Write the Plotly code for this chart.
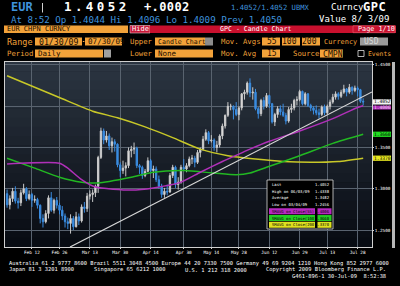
import plotly.graph_objects as go
import pandas as pd

W, H = 400, 286
MONO = "DejaVu Sans Mono"

# ---------------- data ----------------
dates = pd.bdate_range("2009-01-30", "2009-07-30")  # 130 trading days

opens = [1.2940, 1.2805, 1.2880, 1.2970, 1.2850, 1.2830, 1.2950, 1.3000, 1.2880, 1.2930,
         1.2860, 1.2870, 1.2800, 1.2640, 1.2600, 1.2700, 1.2890, 1.2740, 1.2860, 1.2800,
         1.2740, 1.2670, 1.2600, 1.2580, 1.2640, 1.2540, 1.2660, 1.2610, 1.2780, 1.2760,
         1.2910, 1.2930, 1.2950, 1.3030, 1.3380, 1.3700, 1.3590, 1.3640, 1.3520, 1.3570,
         1.3540, 1.3290, 1.3220, 1.3250, 1.3280, 1.3460, 1.3480, 1.3490, 1.3280, 1.3260,
         1.3160, 1.3210, 1.3340, 1.3220, 1.3240, 1.3110, 1.3030, 1.2930, 1.2970, 1.2960,
         1.3160, 1.3260, 1.3050, 1.3080, 1.3260, 1.3240, 1.3280, 1.3360, 1.3370, 1.3320,
         1.3440, 1.3480, 1.3600, 1.3680, 1.3580, 1.3590, 1.3500, 1.3530, 1.3640, 1.3760,
         1.3890, 1.4000, 1.4000, 1.3960, 1.3900, 1.3980, 1.4150, 1.4170, 1.4280, 1.4160,
         1.4170, 1.3970, 1.3910, 1.4070, 1.4000, 1.4130, 1.4030, 1.3810, 1.3900, 1.3970,
         1.3930, 1.3890, 1.3820, 1.3960, 1.3980, 1.4070, 1.4080, 1.4180, 1.4030, 1.4150,
         1.4010, 1.3980, 1.3950, 1.3920, 1.3900, 1.3990, 1.3920, 1.4000, 1.4050, 1.4110,
         1.4150, 1.4120, 1.4170, 1.4210, 1.4170, 1.4230, 1.4190, 1.4220, 1.4200, 1.4060]
highs = [1.2990, 1.2920, 1.3010, 1.3030, 1.2890, 1.2990, 1.3060, 1.3020, 1.2980, 1.2950,
         1.2920, 1.2890, 1.2810, 1.2690, 1.2740, 1.2920, 1.2960, 1.2880, 1.2900, 1.2830,
         1.2790, 1.2700, 1.2650, 1.2690, 1.2670, 1.2720, 1.2700, 1.2810, 1.2840, 1.2950,
         1.2980, 1.2990, 1.3050, 1.3400, 1.3740, 1.3730, 1.3700, 1.3670, 1.3620, 1.3600,
         1.3550, 1.3320, 1.3340, 1.3320, 1.3500, 1.3520, 1.3560, 1.3510, 1.3300, 1.3280,
         1.3240, 1.3380, 1.3360, 1.3280, 1.3270, 1.3160, 1.3060, 1.3010, 1.3050, 1.3190,
         1.3290, 1.3280, 1.3140, 1.3290, 1.3360, 1.3310, 1.3390, 1.3410, 1.3400, 1.3470,
         1.3500, 1.3640, 1.3720, 1.3700, 1.3650, 1.3610, 1.3580, 1.3660, 1.3790, 1.3900,
         1.4050, 1.4030, 1.4010, 1.4050, 1.4000, 1.4160, 1.4200, 1.4300, 1.4338, 1.4230,
         1.4210, 1.3990, 1.4090, 1.4110, 1.4160, 1.4140, 1.4040, 1.3920, 1.4000, 1.4010,
         1.4030, 1.3920, 1.3990, 1.4030, 1.4090, 1.4120, 1.4200, 1.4190, 1.4170, 1.4160,
         1.4030, 1.4000, 1.4010, 1.3970, 1.4010, 1.4020, 1.4020, 1.4080, 1.4150, 1.4180,
         1.4170, 1.4200, 1.4260, 1.4220, 1.4270, 1.4240, 1.4250, 1.4240, 1.4210, 1.4096]
lows = [1.2770, 1.2750, 1.2840, 1.2820, 1.2760, 1.2790, 1.2930, 1.2850, 1.2860, 1.2780,
        1.2830, 1.2760, 1.2580, 1.2530, 1.2580, 1.2640, 1.2720, 1.2700, 1.2760, 1.2690,
        1.2620, 1.2530, 1.2510, 1.2456, 1.2500, 1.2530, 1.2560, 1.2590, 1.2710, 1.2720,
        1.2870, 1.2840, 1.2900, 1.2950, 1.3360, 1.3540, 1.3560, 1.3470, 1.3440, 1.3450,
        1.3260, 1.3140, 1.3180, 1.3150, 1.3250, 1.3380, 1.3420, 1.3250, 1.3180, 1.3120,
        1.3140, 1.3200, 1.3180, 1.3130, 1.3080, 1.3000, 1.2890, 1.2890, 1.2920, 1.2950,
        1.3130, 1.3010, 1.2990, 1.3060, 1.3220, 1.3200, 1.3260, 1.3300, 1.3260, 1.3300,
        1.3380, 1.3460, 1.3580, 1.3540, 1.3560, 1.3460, 1.3440, 1.3500, 1.3600, 1.3730,
        1.3870, 1.3950, 1.3840, 1.3880, 1.3830, 1.3950, 1.4080, 1.4140, 1.4110, 1.4080,
        1.3950, 1.3850, 1.3880, 1.3960, 1.3980, 1.3980, 1.3790, 1.3760, 1.3860, 1.3890,
        1.3870, 1.3780, 1.3800, 1.3920, 1.3950, 1.4010, 1.4060, 1.4010, 1.4010, 1.3990,
        1.3940, 1.3900, 1.3890, 1.3850, 1.3880, 1.3890, 1.3900, 1.3960, 1.4030, 1.4080,
        1.4080, 1.4100, 1.4150, 1.4120, 1.4150, 1.4140, 1.4170, 1.4120, 1.4040, 1.4009]
closes = [1.2805, 1.2880, 1.2970, 1.2850, 1.2830, 1.2950, 1.3000, 1.2880, 1.2930, 1.2860,
          1.2870, 1.2800, 1.2640, 1.2600, 1.2700, 1.2890, 1.2740, 1.2860, 1.2800, 1.2740,
          1.2670, 1.2600, 1.2580, 1.2640, 1.2540, 1.2660, 1.2610, 1.2780, 1.2760, 1.2910,
          1.2930, 1.2950, 1.3030, 1.3380, 1.3700, 1.3590, 1.3640, 1.3520, 1.3570, 1.3540,
          1.3290, 1.3220, 1.3250, 1.3280, 1.3460, 1.3480, 1.3490, 1.3280, 1.3260, 1.3160,
          1.3210, 1.3340, 1.3220, 1.3240, 1.3110, 1.3030, 1.2930, 1.2970, 1.2960, 1.3160,
          1.3260, 1.3050, 1.3080, 1.3260, 1.3240, 1.3280, 1.3360, 1.3370, 1.3320, 1.3440,
          1.3480, 1.3600, 1.3680, 1.3580, 1.3590, 1.3500, 1.3530, 1.3640, 1.3760, 1.3890,
          1.4000, 1.4000, 1.3960, 1.3900, 1.3980, 1.4150, 1.4170, 1.4280, 1.4160, 1.4170,
          1.3970, 1.3910, 1.4070, 1.4000, 1.4130, 1.4030, 1.3810, 1.3900, 1.3970, 1.3930,
          1.3890, 1.3820, 1.3960, 1.3980, 1.4070, 1.4080, 1.4180, 1.4030, 1.4150, 1.4010,
          1.3980, 1.3950, 1.3920, 1.3900, 1.3990, 1.3920, 1.4000, 1.4050, 1.4110, 1.4150,
          1.4120, 1.4170, 1.4210, 1.4170, 1.4230, 1.4190, 1.4220, 1.4200, 1.4060, 1.4052]

# moving averages (trading-day index, value)
ma55_idx = [0, 19, 22, 27, 32, 45, 53, 63, 70, 78, 84, 88, 95, 106, 118, 127, 129]
ma55_val = [1.3300, 1.3310, 1.3250, 1.3110, 1.3020, 1.2985, 1.3010, 1.3080, 1.3200,
            1.3330, 1.3420, 1.3480, 1.3575, 1.3700, 1.3850, 1.3985, 1.4006]
ma100_idx = [0, 10, 19, 27, 33, 45, 53, 64, 75, 83, 88, 94, 106, 118, 129]
ma100_val = [1.3370, 1.3250, 1.3140, 1.3080, 1.3070, 1.3140, 1.3200, 1.3220, 1.3190,
             1.3170, 1.3190, 1.3260, 1.3400, 1.3550, 1.3660]
ma200_idx = [0, 10, 20, 31, 40, 50, 60, 70, 80, 90, 100, 110, 120, 129]
ma200_val = [1.4370, 1.4230, 1.4090, 1.3940, 1.3860, 1.3750, 1.3620, 1.3480, 1.3400,
             1.3360, 1.3330, 1.3320, 1.3330, 1.3370]

# hand-drawn trend line (index, price)
trend_idx = [22.8, 132.2]
trend_val = [1.2294, 1.4173]

y_tickvals = [1.25, 1.30, 1.35, 1.40, 1.45]
y_ticktext = ["1.2500", "1.3000", "1.3500", "", "1.4500"]
x_tick_idx = [9, 19, 30, 41, 52, 64, 74, 84, 95, 106, 116, 127]

XR = [-0.75, 132.2]
YR = [1.2294, 1.4536]

# ---------------- helpers ----------------
ann = []
shp = []


def px(x):
    return x / W


def py(y):
    return 1 - y / H


def text(x, y, s, size, color, anchor="left", bold=False, family=MONO, spacing=None):
    t = f"<b>{s}</b>" if bold else s
    if spacing is not None:
        t = f'<span style="letter-spacing:{spacing}px">{t}</span>'
    ann.append(dict(x=px(x), y=py(y), xref="paper", yref="paper", text=t,
                    showarrow=False, xanchor=anchor, yanchor="middle",
                    font=dict(size=size, color=color, family=family)))


def rect(x0, y0, x1, y1, fill, line=None, lw=0, layer="above"):
    shp.append(dict(type="rect", xref="paper", yref="paper",
                    x0=px(x0), x1=px(x1), y0=py(y1), y1=py(y0),
                    fillcolor=fill, line=dict(color=line or fill, width=lw), layer=layer))


BLUE = "#3f92dc"
ORANGE = "#f2a23a"
DARK = "#1a0e00"

# ---------------- header ----------------
text(9, 7, "EUR", 12, BLUE, bold=True)
rect(42, 3, 43, 12.5, "#d0d0d0")
text(62, 6.8, "1.4052", 12.5, "white", bold=True, spacing=3.4)
text(142, 6.8, "+.0002", 12, "white", bold=True, spacing=0.4)
text(229, 7, "1.4052/1.4052 UBMX", 7.2, BLUE)
text(329, 7, "Curncy", 9, "white")
text(361, 7, "GPC", 12, "white", bold=True, spacing=0.5)

text(9, 19, "At 8:52 Op 1.4044 Hi 1.4096 Lo 1.4009 Prev 1.4050", 9.2, BLUE)
text(317, 19, "Value 8/ 3/09", 9, "white")

rect(4, 25.5, 128, 33, ORANGE)
text(5, 29.5, "EUR CHPN CURNCY", 7, DARK)
rect(130, 25.5, 150, 33, "#c81a3a", line="#f0c0c8", lw=0.6)
text(140, 29.5, "Hide", 7, "white", anchor="center")
rect(150, 25.5, 396, 33, "#c8102e")
text(218, 29.5, "GPC - Candle Chart", 6.6, "white")
rect(353, 25.8, 395, 32.7, "#c8102e", line="#e86070", lw=0.6)
text(356, 29.5, "Page 1/10", 6.8, "white")

LS = 7.3  # label size
# row 4
r4 = 41.5
text(5, r4, "Range", 8.5, ORANGE)
rect(35, 37.5, 82, 45.5, ORANGE)
text(36.5, r4, "01/30/09", 8.2, DARK)
rect(82.8, 41, 84.4, 42, ORANGE)
rect(85, 37.5, 122, 45.5, ORANGE)
text(85.5, r4, "07/30/09", 7.6, DARK)
text(128, r4, "Upper", LS, ORANGE)
rect(155, 37.5, 205, 45.5, ORANGE)
rect(205, 37.5, 213, 45.5, "#8c8c8c")
text(155.5, r4, "Candle Chart", 6.6, DARK)
text(219, r4, "Mov. Avgs", LS, ORANGE)
rect(262, 37.5, 280, 45.5, ORANGE)
text(279, r4, "55", 8, DARK, anchor="right")
rect(282, 37.5, 300, 45.5, ORANGE)
text(299, r4, "100", 8, DARK, anchor="right")
rect(302, 37.5, 320, 45.5, ORANGE)
text(319, r4, "200", 8, DARK, anchor="right")
text(322, r4, "Currency", 6.9, ORANGE)
rect(360, 37.5, 388, 45.5, "#9a9a9a")
text(362, r4, "USD", 8, "#d8d8d8")

# row 5
r5 = 53.5
text(5, r5, "Period", LS, ORANGE)
rect(35, 49.5, 103, 57.5, ORANGE)
rect(104, 49.5, 111, 57.5, "#a0a0a0")
text(36, r5, "Daily", 7.5, DARK)
text(128, r5, "Lower", LS, ORANGE)
rect(155, 49.5, 213, 57.5, ORANGE)
text(156, r5, "None", 7.5, DARK)
text(219, r5, "Mov. Avg", LS, ORANGE)
rect(262, 49.5, 280, 57.5, ORANGE)
text(279, r5, "15", 8, DARK, anchor="right")
text(291, r5, "Source", LS, ORANGE)
rect(320, 49.5, 343, 57.5, ORANGE)
text(321, r5, "CMPN", 8.2, DARK)
rect(358, 50.5, 364, 56.5, "black", line="#e0e0e0", lw=0.8)
text(366, r5, "Events", 6.4, ORANGE)

# ---------------- chart background gradient ----------------
top_c = (44, 54, 66)
bot_c = (8, 11, 18)
n = 20
y0p, y1p = 62, 247
for i in range(n):
    f = (i + 0.5) / n
    c = tuple(int(top_c[k] + (bot_c[k] - top_c[k]) * f) for k in range(3))
    ya = y0p + (y1p - y0p) * i / n
    yb = y0p + (y1p - y0p) * (i + 1) / n + 0.5
    rect(5, ya, 372, yb, "rgb(%d,%d,%d)" % c, layer="below")

# right scroll strip
rect(392, 62, 395, 248, "#b8b8b8")

# ---------------- traces ----------------
idx = list(range(len(dates)))
fig = go.Figure()
fig.add_trace(go.Candlestick(
    x=idx, open=opens, high=highs, low=lows, close=closes,
    increasing=dict(line=dict(color="#c8c8c8", width=1), fillcolor="#eeeeee"),
    decreasing=dict(line=dict(color="#3a8ce0", width=1), fillcolor="#3a8ce0"),
    whiskerwidth=0, showlegend=False, hoverinfo="skip"))
fig.add_trace(go.Scatter(x=ma200_idx, y=ma200_val, mode="lines",
                         line=dict(color="#c8c828", width=1.5, shape="spline", smoothing=0.6),
                         showlegend=False, hoverinfo="skip"))
fig.add_trace(go.Scatter(x=ma100_idx, y=ma100_val, mode="lines",
                         line=dict(color="#22b822", width=1.5, shape="spline", smoothing=0.6),
                         showlegend=False, hoverinfo="skip"))
fig.add_trace(go.Scatter(x=ma55_idx, y=ma55_val, mode="lines",
                         line=dict(color="#b030b8", width=1.5, shape="spline", smoothing=0.6),
                         showlegend=False, hoverinfo="skip"))
fig.add_trace(go.Scatter(x=trend_idx, y=trend_val, mode="lines",
                         line=dict(color="#d8d8d8", width=1.2),
                         showlegend=False, hoverinfo="skip", cliponaxis=True))

# ---------------- right-side value labels ----------------
def ylabel(price, s, fill, tcolor, h=0.0064):
    shp.append(dict(type="rect", xref="paper", yref="y", x0=px(373), x1=px(391),
                    y0=price - h / 2, y1=price + h / 2, fillcolor=fill,
                    line=dict(color=fill, width=0), layer="above"))
    ann.append(dict(x=px(382), y=price, xref="paper", yref="y", text=s, showarrow=False,
                    xanchor="center", yanchor="middle",
                    font=dict(size=4.6, color=tcolor, family=MONO)))


last = closes[-1]
ylabel(last, f"{last:.4f}", "#f4f4f4", "black")
ylabel(last - 0.0068, f"{ma55_val[-1]:.4f}", "#b030b8", "#f0d0f0", h=0.0048)
ylabel(ma100_val[-1], f"{ma100_val[-1]:.4f}", "#22dd22", "black")
ylabel(ma200_val[-1], f"{ma200_val[-1]:.4f}", "#e8e820", "black")

# ---------------- stats box ----------------
hi = max(highs)
lo = min(lows)
hi_d = dates[highs.index(hi)]
lo_d = dates[lows.index(lo)]
avg = sum(closes) / len(closes)
rect(267, 180, 333, 229, "black", line="#d8d8d8", lw=0.8)
rows = [
    ("Last", last, None),
    (f"High on {hi_d:%m/%d/%y}", hi, None),
    ("Average", avg, None),
    (f"Low on {lo_d:%m/%d/%y}", lo, None),
    ("SMAVG on Close(55)", ma55_val[-1], "#b828c0"),
    ("SMAVG on Close(100)", ma100_val[-1], "#22cc22"),
    ("SMAVG on Close(200)", ma200_val[-1], "#e0e020"),
]
for i, (lab, val, col) in enumerate(rows):
    yc = 184.3 + i * 6.75
    if col:
        rect(269, yc - 3, 315, yc + 3, col)
        rect(317.5, yc - 3, 331.5, yc + 3, col)
        tc = "black"
    else:
        tc = "white"
    text(269.5, yc, lab, 3.9, tc)
    text(331.5, yc, f"{val:.4f}", 3.9, tc, anchor="right")

# ---------------- footer ----------------
FS = 5.4
text(7, 263.5, "Australia 61 2 9777 8600 Brazil 5511 3048 4500 Europe 44 20 7330 7500 "
     "Germany 49 69 9204 1210 Hong Kong 852 2977 6000", FS, "white")
text(7, 269.5, "Japan 81 3 3201 8900", FS, "white")
text(92, 269.5, "Singapore 65 6212 1000", FS, "white")
text(183, 269.5, "U.S. 1 212 318 2000", FS, "white")
text(388, 269.5, "Copyright 2009 Bloomberg Finance L.P.", FS, "white", anchor="right")
text(388, 275.5, "G461-896-1 30-Jul-09  8:52:38", FS, "white", anchor="right")

# ---------------- layout ----------------
x_ticktext = [f"{dates[i]:%b} {dates[i].day}" for i in x_tick_idx]
fig.update_layout(
    width=W, height=H, margin=dict(l=0, r=0, t=0, b=0),
    paper_bgcolor="black", plot_bgcolor="rgba(0,0,0,0)",
    showlegend=False, annotations=ann, shapes=shp,
    xaxis=dict(domain=[px(5), px(372)], range=XR, rangeslider=dict(visible=False),
               tickvals=x_tick_idx, ticktext=x_ticktext, showgrid=True,
               gridcolor="#59636f", gridwidth=1, zeroline=False,
               showline=True, linecolor="#d0d0d0", linewidth=1, mirror=True,
               ticks="outside", ticklen=1, tickcolor="#d0d0d0",
               tickfont=dict(size=4.4, color="white", family=MONO)),
    yaxis=dict(domain=[py(247), py(62)], range=YR, side="right",
               tickvals=y_tickvals, ticktext=y_ticktext, showgrid=True,
               gridcolor="#59636f", gridwidth=1, zeroline=False,
               showline=True, linecolor="#d0d0d0", linewidth=1, mirror=True,
               ticks="outside", ticklen=1, tickcolor="#d0d0d0",
               tickfont=dict(size=4.3, color="white", family=MONO)),
)

fig.write_html("out.html")
